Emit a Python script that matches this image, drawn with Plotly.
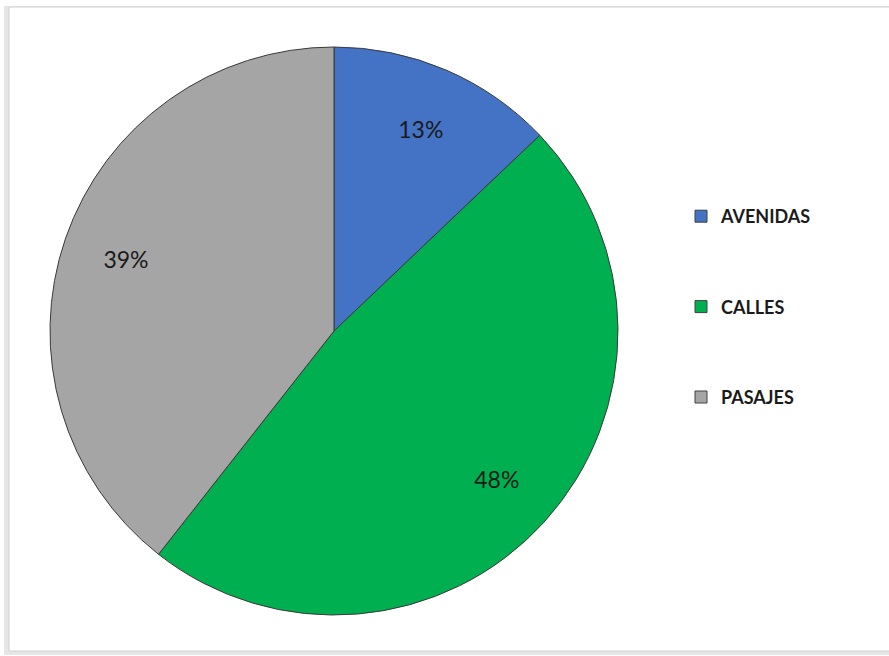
import plotly.graph_objects as go

categories = ["AVENIDAS", "CALLES", "PASAJES"]
values = [12.9, 47.7, 39.4]
colors = ["#4472C4", "#00B050", "#A5A5A5"]

W, H = 889, 656
cx, cy, r = 334, 331, 284
dom = dict(x=[(cx - r) / W, (cx + r) / W], y=[1 - (cy + r) / H, 1 - (cy - r) / H])

fig = go.Figure()
fig.add_trace(go.Pie(
    labels=categories, values=values, sort=False, direction="clockwise",
    rotation=0, marker=dict(colors=colors, line=dict(color="#3a3a3a", width=1)),
    textinfo="none", domain=dom, showlegend=False, hoverinfo="label+percent",
))
# label ring (transparent) to place percentages further out like the original
fig.add_trace(go.Pie(
    labels=categories, values=values, sort=False, direction="clockwise",
    rotation=0, hole=0.55,
    marker=dict(colors=["rgba(0,0,0,0)"] * 3, line=dict(width=0)),
    textinfo="percent", texttemplate="%{percent:.0%}", textposition="inside",
    insidetextorientation="horizontal",
    textfont=dict(family="Lato, Liberation Sans, sans-serif", size=23, color="#1a1a1a"),
    domain=dom, showlegend=False, hoverinfo="skip",
))

for cat, col in zip(categories, colors):
    fig.add_trace(go.Scatter(
        x=[None], y=[None], mode="markers", name=cat, legendgroup=cat,
        marker=dict(symbol="square", size=12, color=col, line=dict(color="#404040", width=1)),
        showlegend=True,
    ))

fig.update_layout(
    width=W, height=H,
    margin=dict(l=0, r=0, t=0, b=0),
    paper_bgcolor="white", plot_bgcolor="white",
    xaxis=dict(visible=False), yaxis=dict(visible=False),
    legend=dict(
        x=681 / W, y=1 - 198 / H, xanchor="left", yanchor="top",
        font=dict(family="Lato, Liberation Sans, sans-serif", size=18, color="#1a1a1a", weight="bold"),
        tracegroupgap=64, itemwidth=30, bgcolor="rgba(0,0,0,0)",
    ),
    shapes=[
        dict(type="rect", xref="paper", yref="paper", x0=4 / W, x1=1.05, y0=1 - 655 / H, y1=1 - 6 / H,
             line=dict(color="rgba(0,0,0,0)", width=0), fillcolor="#e6e6e6", layer="below"),
        dict(type="rect", xref="paper", yref="paper", x0=9 / W, x1=1.05, y0=1 - 651 / H, y1=1 - 7 / H,
             line=dict(color="#d0d0d0", width=1), fillcolor="white", layer="below"),
    ],
)

fig.write_html("out.html", config={"displayModeBar": False},
               post_script="document.body.style.margin='0px';")
